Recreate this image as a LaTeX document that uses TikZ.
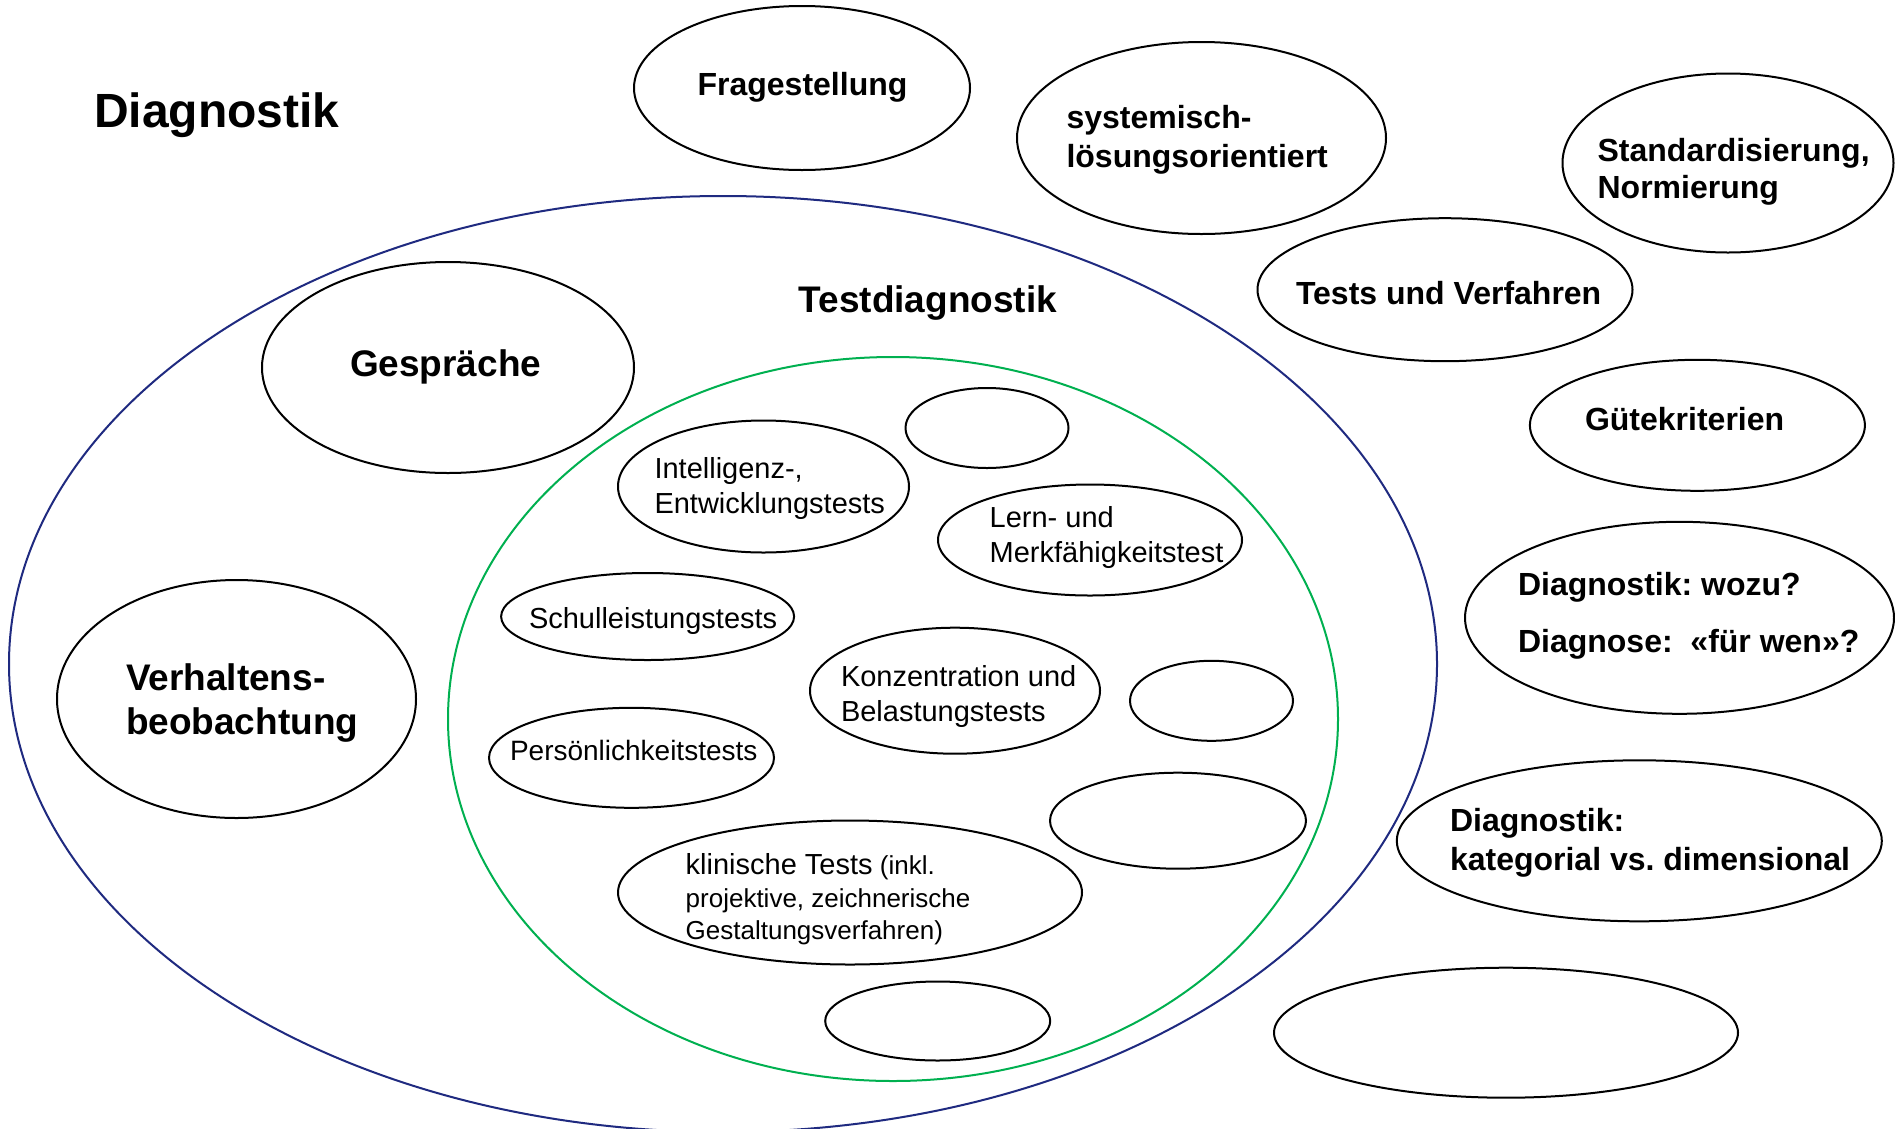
\documentclass[tikz,border=0pt]{standalone}
\usepackage{fontspec}
\setmainfont{Liberation Sans}
\usetikzlibrary{shapes.geometric}
\definecolor{navyline}{HTML}{1F2A80}
\definecolor{greenline}{HTML}{00B050}
\frenchspacing
\tikzset{
  oval/.style={draw=black, line width=2pt, shape=ellipse, inner sep=0pt, outer sep=0pt},
  bigoval/.style={shape=ellipse, inner sep=0pt, outer sep=0pt, line width=2pt},
  lbl/.style={inner sep=0pt, outer sep=0pt, anchor=base west, text=black},
  bl/.style={font=\fontsize{32}{38}\selectfont\bfseries},
  bm/.style={font=\fontsize{37}{44}\selectfont\bfseries},
  rg/.style={font=\fontsize{29}{35}\selectfont},
}
\newcommand{\twolines}[3]{\vtop{\baselineskip=#3pt\hbox{#1}\hbox{#2}}}
\begin{document}
\begin{tikzpicture}[x=1pt,y=-1pt]
\clip (0,0) rectangle (1895,1128);
\fill[white] (0,0) rectangle (1895,1128);

% large containers
\node[bigoval, draw=navyline, minimum width=1428pt, minimum height=936pt] (diag) at (723,664) {};
\node[bigoval, draw=greenline, minimum width=890pt, minimum height=724pt] (test) at (893,719) {};

% outer ovals
\node[oval, minimum width=336pt, minimum height=164pt] (frage) at (802,88) {};
\node[oval, minimum width=369pt, minimum height=192pt] (syst) at (1201.5,138) {};
\node[oval, minimum width=331pt, minimum height=179pt] (stand) at (1728,163) {};
\node[oval, minimum width=375pt, minimum height=143pt] (tuv) at (1445,289.7) {};
\node[oval, minimum width=335pt, minimum height=131pt] (guete) at (1697.4,425.3) {};
\node[oval, minimum width=429pt, minimum height=192pt] (wozu) at (1679.5,617.8) {};
\node[oval, minimum width=485pt, minimum height=161pt] (kateg) at (1639.3,840.8) {};
\node[oval, minimum width=464pt, minimum height=130pt] (leerr) at (1506,1032.7) {};
\node[oval, minimum width=372pt, minimum height=211pt] (gespr) at (448,367.5) {};
\node[oval, minimum width=359pt, minimum height=238pt] (verh) at (236.5,699) {};

% inner ovals
\node[oval, minimum width=291pt, minimum height=132pt] (intel) at (763.5,486.5) {};
\node[oval, minimum width=163pt, minimum height=80pt] (leer1) at (987,428) {};
\node[oval, minimum width=304pt, minimum height=111pt] (lern) at (1090,540) {};
\node[oval, minimum width=293pt, minimum height=87pt] (schul) at (647.6,616.5) {};
\node[oval, minimum width=290pt, minimum height=126pt] (konz) at (955,690.7) {};
\node[oval, minimum width=163pt, minimum height=80pt] (leer2) at (1211.5,700.8) {};
\node[oval, minimum width=285pt, minimum height=100pt] (pers) at (631.5,757.8) {};
\node[oval, minimum width=256pt, minimum height=96pt] (leer3) at (1178,820.7) {};
\node[oval, minimum width=464pt, minimum height=144pt] (klin) at (850,892.5) {};
\node[oval, minimum width=225pt, minimum height=79pt] (leer4) at (937.7,1021) {};

% texts
\node[lbl, font=\fontsize{48}{56}\selectfont\bfseries] (title) at (94,127) {Diagnostik};
\node[lbl, bl, anchor=base] (tfrage) at (802.5,95) {Fragestellung};
\node[lbl, bl] (tsyst) at (1066.5,128) {\twolines{systemisch-}{lösungsorientiert}{39}};
\node[lbl, bl] (tstand) at (1597.6,161.3) {\twolines{Standardisierung,}{Normierung}{37}};
\node[lbl, bl] (ttuv) at (1296,304.5) {Tests und Verfahren};
\node[lbl, bl] (tguete) at (1585,430.7) {Gütekriterien};
\node[lbl, bm] (ttest) at (798.7,312) {Testdiagnostik};
\node[lbl, bm] (tgespr) at (350,376.7) {Gespräche};
\node[lbl, bm] (tverh) at (126,690) {\twolines{Verhaltens-}{beobachtung}{44}};
\node[lbl, bl] (twozu) at (1518,595.3) {\twolines{Diagnostik: wozu?}{Diagnose:\ \ «für wen»?}{57}};
\node[lbl, bl] (tkateg) at (1450,831.6) {\twolines{Diagnostik:}{kategorial vs. dimensional}{39}};
\node[lbl, rg] (tintel) at (654.5,478) {\twolines{Intelligenz-,}{Entwicklungstests}{35}};
\node[lbl, rg] (tlern) at (989.7,527) {\twolines{Lern- und}{Merkfähigkeitstest}{35.4}};
\node[lbl, rg] (tschul) at (529,628) {Schulleistungstests};
\node[lbl, rg] (tkonz) at (841,686.5) {\twolines{Konzentration und}{Belastungstests}{35}};
\node[lbl, font=\fontsize{28}{34}\selectfont] (tpers) at (510,760) {Persönlichkeitstests};
\node[lbl, font=\fontsize{26}{32.5}\selectfont] (tklin) at (685.7,874.6)
  {\vtop{\baselineskip=32.5pt
    \hbox{{\fontsize{29}{32.5}\selectfont klinische Tests} (inkl.}
    \hbox{projektive, zeichnerische}
    \hbox{Gestaltungsverfahren)}}};
\end{tikzpicture}
\end{document}
